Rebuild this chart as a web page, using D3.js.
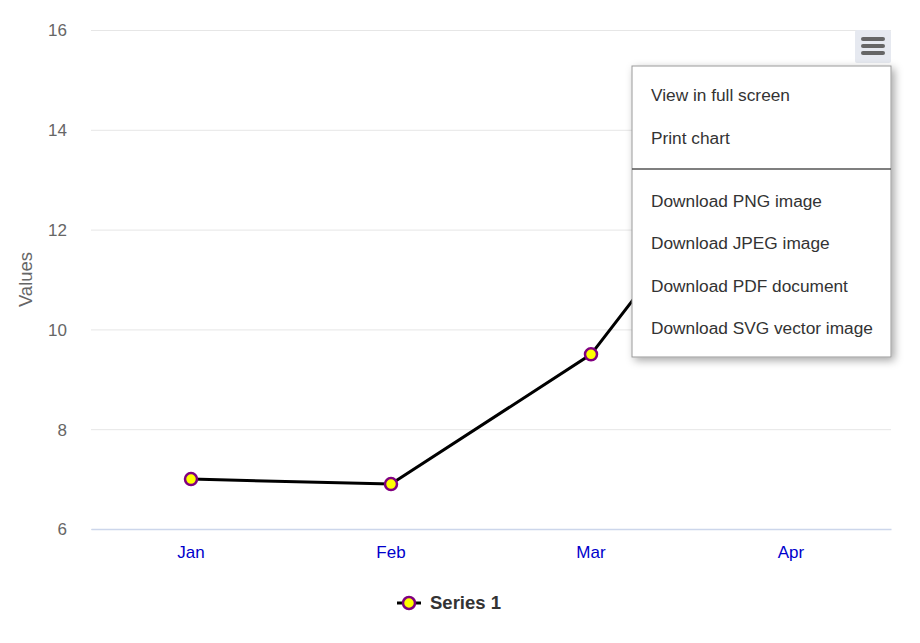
<!DOCTYPE html>
<html><head><meta charset="utf-8">
<script src="https://cdn.jsdelivr.net/npm/d3@7"></script>
<style>body{margin:0;background:#fff;}svg{display:block;font-family:"Liberation Sans",Arial,sans-serif;}</style>
</head><body><div id="chart"></div>
<script>
const categories = ["Jan", "Feb", "Mar", "Apr"];
const seriesName = "Series 1";
const values = [7.0, 6.9, 9.5, 14.7];
const yTicks = [6, 8, 10, 12, 14, 16];
const menuItems = ["View in full screen", "Print chart", null, "Download PNG image", "Download JPEG image", "Download PDF document", "Download SVG vector image"];

const W = 920, H = 643;
const m = {left: 91, right: 29, top: 30, bottom: 114};
const svg = d3.select("#chart").append("svg").attr("width", W).attr("height", H);
const x = d3.scaleBand().domain(categories).range([m.left, W - m.right]);
const y = d3.scaleLinear().domain([6, 16]).range([H - m.bottom, m.top]);

const defs = svg.append("defs");
const f = defs.append("filter").attr("id", "sh").attr("x", "-20%").attr("y", "-20%").attr("width", "140%").attr("height", "140%");
f.append("feDropShadow").attr("dx", 3).attr("dy", 3).attr("stdDeviation", 4).attr("flood-color", "#000").attr("flood-opacity", 0.35);

// grid
const yAxis = d3.axisLeft(y).tickValues(yTicks).tickSize(-(W - m.left - m.right)).tickPadding(24).tickFormat(d3.format("d"));
const gy = svg.append("g").attr("transform", `translate(${m.left},0)`).call(yAxis);
gy.select(".domain").remove();
gy.selectAll(".tick line").attr("stroke", "#e6e6e6");
gy.selectAll(".tick text").attr("fill", "#666").attr("font-size", 17).attr("dy", "0.35em");

// x axis
const xAxis = d3.axisBottom(x).tickSize(0).tickPadding(17);
const gx = svg.append("g").attr("transform", `translate(0,${H - m.bottom})`).call(xAxis);
gx.select(".domain").attr("stroke", "#ccd6eb").attr("stroke-width", 1.5);
gx.selectAll(".tick text").attr("fill", "#0000cc").attr("font-size", 17);

svg.append("text").attr("transform", `translate(32,${(m.top + H - m.bottom) / 2}) rotate(-90)`)
  .attr("text-anchor", "middle").attr("fill", "#666").attr("font-size", 18.5).text("Values");

const cx = d => x(d) + x.bandwidth() / 2;
const line = d3.line().x((d, i) => cx(categories[i])).y(d => y(d));
svg.append("path").datum(values).attr("d", line).attr("fill", "none").attr("stroke", "#000").attr("stroke-width", 3);
svg.selectAll("circle.pt").data(values).enter().append("circle").attr("class", "pt")
  .attr("cx", (d, i) => cx(categories[i])).attr("cy", d => y(d)).attr("r", 6)
  .attr("fill", "#ffff00").attr("stroke", "#800080").attr("stroke-width", 2.5);

// legend
const lg = svg.append("g").attr("transform", "translate(397,603)");
lg.append("line").attr("x1", 0).attr("x2", 24).attr("stroke", "#000").attr("stroke-width", 3);
lg.append("circle").attr("cx", 12).attr("r", 6).attr("fill", "#ffff00").attr("stroke", "#800080").attr("stroke-width", 2.5);
lg.append("text").attr("x", 33).attr("dy", "0.35em").attr("font-size", 18.5).attr("font-weight", "bold").attr("fill", "#333").text(seriesName);

// export button
const btn = svg.append("g").attr("transform", "translate(855,30)");
btn.append("rect").attr("width", 36).attr("height", 33).attr("rx", 2).attr("fill", "#e6e9f0");
[9, 16, 23].forEach(yy => btn.append("line").attr("x1", 8).attr("x2", 28).attr("y1", yy).attr("y2", yy)
  .attr("stroke", "#666").attr("stroke-width", 4).attr("stroke-linecap", "round"));

// menu
const mx = 632, my = 66, mw = 259, mh = 291;
const menu = svg.append("g");
menu.append("rect").attr("x", mx).attr("y", my).attr("width", mw).attr("height", mh)
  .attr("fill", "#fff").attr("stroke", "#999").attr("stroke-width", 1).attr("filter", "url(#sh)");
const itemY = [95, 138, 169, 201, 243, 286, 328];
menuItems.forEach((t, i) => {
  if (t === null) {
    menu.append("line").attr("x1", mx).attr("x2", mx + mw).attr("y1", itemY[i]).attr("y2", itemY[i]).attr("stroke", "#555").attr("stroke-width", 1.5);
  } else {
    menu.append("text").attr("x", 651).attr("y", itemY[i]).attr("dy", "0.35em").attr("font-size", 17.3).attr("fill", "#333").text(t);
  }
});
</script></body></html>
